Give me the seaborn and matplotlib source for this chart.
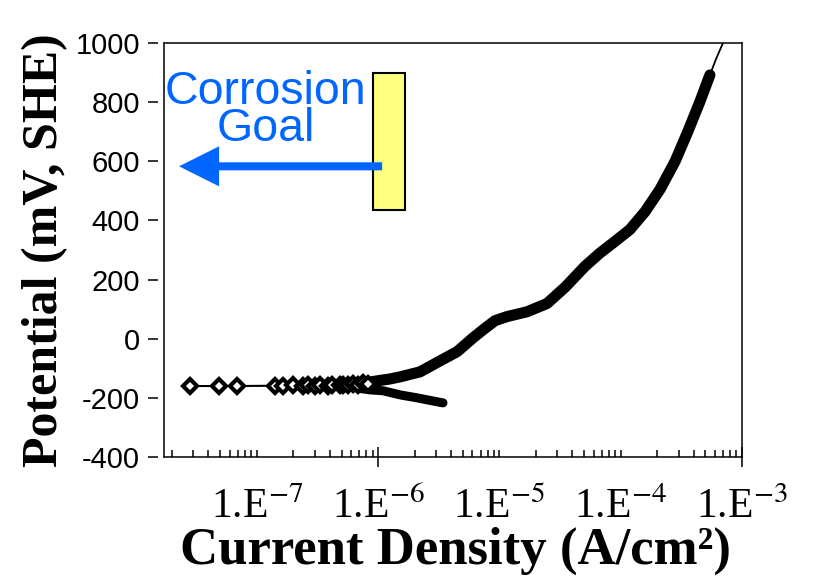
import numpy as np
import pandas as pd
import seaborn as sns
import matplotlib.pyplot as plt
from matplotlib.patches import Rectangle
from matplotlib.ticker import LogLocator, NullFormatter, FixedLocator

# ramo anodico (banda grossa), corrente em A/cm2 e potencial em mV
anod_i = [5.87e-7, 7.82e-7, 1.0e-6, 1.26e-6, 1.52e-6, 2.22e-6, 3.24e-6, 4.48e-6,
          6.07e-6, 7.33e-6, 9.20e-6, 1.16e-5, 1.69e-5, 2.47e-5, 3.50e-5, 5.08e-5,
          6.76e-5, 8.97e-5, 1.19e-4, 1.59e-4, 2.11e-4, 2.81e-4, 3.59e-4, 4.51e-4, 5.44e-4]
anod_e = [-156, -149, -142, -136, -129, -112, -75, -44,
          3, 30, 61, 75, 91, 119, 175, 245,
          290, 329, 369, 430, 505, 600, 702, 803, 892]

# final do ramo anodico (linha fina)
cauda_i = [5.44e-4, 6.11e-4, 6.97e-4, 7.3e-4]
cauda_e = [892, 946, 1000, 1020]

# ramo catodico
cat_i = [6.46e-7, 8.59e-7, 1.10e-6, 1.52e-6, 2.10e-6, 2.79e-6, 3.43e-6]
cat_e = [-166, -173, -176, -190, -200, -210, -217]

# pontos perto do potencial de corrosao (losangos)
ecorr_i = [2.82e-8, 4.90e-8, 6.89e-8, 1.42e-7, 1.65e-7, 1.99e-7, 2.41e-7, 2.65e-7,
           3.03e-7, 3.33e-7, 3.87e-7, 4.18e-7, 4.86e-7, 5.15e-7, 5.66e-7, 6.22e-7,
           6.84e-7, 7.52e-7, 8.28e-7]
ecorr_e = [-160, -160, -160, -159, -160, -158, -160, -158,
           -159, -157, -160, -156, -158, -155, -157, -153,
           -156, -151, -154]

# faixa da meta de corrosao
meta_i = (9.1e-7, 1.67e-6)
meta_e = (435, 900)

decadas = [1e-7, 1e-6, 1e-5, 1e-4, 1e-3]
rotulos_x = ['1.E$^{-7}$', '1.E$^{-6}$', '1.E$^{-5}$', '1.E$^{-4}$', '1.E$^{-3}$']
ticks_y = [-400, -200, 0, 200, 400, 600, 800, 1000]

sns.set_style('white')
plt.rcParams['font.family'] = ['Liberation Sans', 'DejaVu Sans']
plt.rcParams['mathtext.fontset'] = 'stix'
for chave in ['text.color', 'axes.labelcolor', 'xtick.color', 'ytick.color']:
    plt.rcParams[chave] = 'black'

fig, ax = plt.subplots(figsize=(8.14, 5.84), dpi=100)
fig.subplots_adjust(left=164/814, right=742/814, bottom=1-457/584, top=1-43/584)
ax.set_xscale('log')

sns.lineplot(x=anod_i, y=anod_e, sort=False, estimator=None, color='black',
             linewidth=8, solid_capstyle='round', solid_joinstyle='round', ax=ax)
sns.lineplot(x=cat_i, y=cat_e, sort=False, estimator=None, color='black',
             linewidth=6.5, solid_capstyle='round', solid_joinstyle='round', ax=ax)
sns.lineplot(x=cauda_i, y=cauda_e, sort=False, estimator=None, color='black',
             linewidth=1.3, ax=ax)
sns.lineplot(x=ecorr_i, y=ecorr_e, sort=False, estimator=None, color='black',
             linewidth=1.5, marker='D', markersize=7, markerfacecolor='white',
             markeredgecolor='black', markeredgewidth=3, ax=ax)

ax.set_xlim(1.72e-8, 1e-3)
ax.set_ylim(-400, 1000)

# retangulo amarelo e seta
ax.add_patch(Rectangle((meta_i[0], meta_e[0]), meta_i[1] - meta_i[0], meta_e[1] - meta_e[0],
                       facecolor='#ffff80', edgecolor='black', linewidth=1.5, zorder=3))
ax.annotate('', xy=(2.29e-8, 583), xytext=(1.08e-6, 583),
            arrowprops=dict(arrowstyle='simple,head_length=28.8,head_width=28.8,tail_width=5.8',
                            mutation_scale=1, color='#0066ff', lw=0, shrinkA=0, shrinkB=0),
            zorder=4)
ax.text(1.19e-7, 668, 'Corrosion\nGoal', color='#0066ff', fontsize=33.5, ha='center',
        va='baseline', multialignment='center', linespacing=0.8)

# eixo y: ticks afastados da moldura
ax.spines['left'].set_position(('outward', 4.3))
ax.spines['left'].set_visible(False)
ax.plot([0, 0], [0, 1], transform=ax.transAxes, color='black', lw=1.1, clip_on=False)
for lado in ['top', 'right', 'bottom']:
    ax.spines[lado].set_linewidth(1.1)
    ax.spines[lado].set_color('black')
ax.set_yticks(ticks_y)
ax.set_yticklabels([str(t) for t in ticks_y], fontsize=21)
ax.tick_params(axis='y', direction='out', length=7.2, width=1.1, pad=5.8, left=True)

# eixo x log
ax.xaxis.set_major_locator(FixedLocator([1e-6, 1e-3]))
ax.xaxis.set_minor_locator(LogLocator(base=10, subs=np.arange(1, 10), numticks=50))
ax.xaxis.set_minor_formatter(NullFormatter())
ax.set_xticklabels(['', ''])
ax.tick_params(axis='x', which='major', direction='inout', length=14.4, width=1.1, bottom=True)
ax.tick_params(axis='x', which='minor', direction='in', length=5, width=1.1, bottom=True)
for d, r in zip(decadas, rotulos_x):
    ax.text(d, -0.147, r, transform=ax.get_xaxis_transform(), ha='center', va='baseline',
            fontsize=30, family='Liberation Serif')

ax.set_xlabel('')
ax.set_ylabel('')
fig.text(45/814, 1 - 250/584, 'Potential (mV, SHE)', rotation=90, ha='center', va='center',
         family='Liberation Serif', weight='bold', fontsize=36)
fig.text(455/814, 1 - 551/584, 'Current Density (A/cm²)', ha='center', va='center',
         family='Liberation Serif', weight='bold', fontsize=38)

plt.savefig('out.png', dpi=100)
